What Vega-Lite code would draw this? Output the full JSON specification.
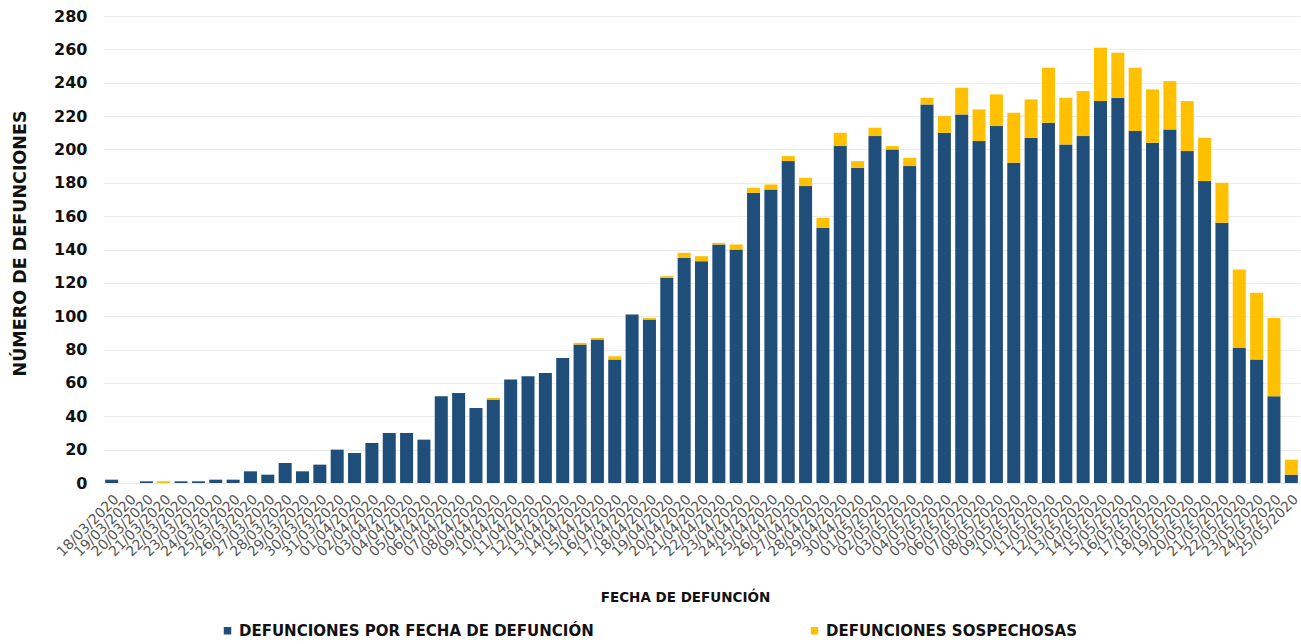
{
  "$schema": "https://vega.github.io/schema/vega-lite/v6.json",
  "autosize": {"type": "none"},
  "width": 1197,
  "height": 467,
  "padding": {"left": 103, "top": 16, "right": 1, "bottom": 161},
  "background": "white",
  "config": {
    "font": "DejaVu Sans",
    "view": {"stroke": null}
  },
  "data": {
    "values": [
      {"fecha": "18/03/2020", "conf": 2, "sosp": 0},
      {"fecha": "19/03/2020", "conf": 0, "sosp": 0},
      {"fecha": "20/03/2020", "conf": 1, "sosp": 0},
      {"fecha": "21/03/2020", "conf": 0, "sosp": 1},
      {"fecha": "22/03/2020", "conf": 1, "sosp": 0},
      {"fecha": "23/03/2020", "conf": 1, "sosp": 0},
      {"fecha": "24/03/2020", "conf": 2, "sosp": 0},
      {"fecha": "25/03/2020", "conf": 2, "sosp": 0},
      {"fecha": "26/03/2020", "conf": 7, "sosp": 0},
      {"fecha": "27/03/2020", "conf": 5, "sosp": 0},
      {"fecha": "28/03/2020", "conf": 12, "sosp": 0},
      {"fecha": "29/03/2020", "conf": 7, "sosp": 0},
      {"fecha": "30/03/2020", "conf": 11, "sosp": 0},
      {"fecha": "31/03/2020", "conf": 20, "sosp": 0},
      {"fecha": "01/04/2020", "conf": 18, "sosp": 0},
      {"fecha": "02/04/2020", "conf": 24, "sosp": 0},
      {"fecha": "03/04/2020", "conf": 30, "sosp": 0},
      {"fecha": "04/04/2020", "conf": 30, "sosp": 0},
      {"fecha": "05/04/2020", "conf": 26, "sosp": 0},
      {"fecha": "06/04/2020", "conf": 52, "sosp": 0},
      {"fecha": "07/04/2020", "conf": 54, "sosp": 0},
      {"fecha": "08/04/2020", "conf": 45, "sosp": 0},
      {"fecha": "09/04/2020", "conf": 50, "sosp": 1},
      {"fecha": "10/04/2020", "conf": 62, "sosp": 0},
      {"fecha": "11/04/2020", "conf": 64, "sosp": 0},
      {"fecha": "12/04/2020", "conf": 66, "sosp": 0},
      {"fecha": "13/04/2020", "conf": 75, "sosp": 0},
      {"fecha": "14/04/2020", "conf": 83, "sosp": 1},
      {"fecha": "15/04/2020", "conf": 86, "sosp": 1},
      {"fecha": "16/04/2020", "conf": 74, "sosp": 2},
      {"fecha": "17/04/2020", "conf": 101, "sosp": 0},
      {"fecha": "18/04/2020", "conf": 98, "sosp": 1},
      {"fecha": "19/04/2020", "conf": 123, "sosp": 1},
      {"fecha": "20/04/2020", "conf": 135, "sosp": 3},
      {"fecha": "21/04/2020", "conf": 133, "sosp": 3},
      {"fecha": "22/04/2020", "conf": 143, "sosp": 1},
      {"fecha": "23/04/2020", "conf": 140, "sosp": 3},
      {"fecha": "24/04/2020", "conf": 174, "sosp": 3},
      {"fecha": "25/04/2020", "conf": 176, "sosp": 3},
      {"fecha": "26/04/2020", "conf": 193, "sosp": 3},
      {"fecha": "27/04/2020", "conf": 178, "sosp": 5},
      {"fecha": "28/04/2020", "conf": 153, "sosp": 6},
      {"fecha": "29/04/2020", "conf": 202, "sosp": 8},
      {"fecha": "30/04/2020", "conf": 189, "sosp": 4},
      {"fecha": "01/05/2020", "conf": 208, "sosp": 5},
      {"fecha": "02/05/2020", "conf": 200, "sosp": 2},
      {"fecha": "03/05/2020", "conf": 190, "sosp": 5},
      {"fecha": "04/05/2020", "conf": 227, "sosp": 4},
      {"fecha": "05/05/2020", "conf": 210, "sosp": 10},
      {"fecha": "06/05/2020", "conf": 221, "sosp": 16},
      {"fecha": "07/05/2020", "conf": 205, "sosp": 19},
      {"fecha": "08/05/2020", "conf": 214, "sosp": 19},
      {"fecha": "09/05/2020", "conf": 192, "sosp": 30},
      {"fecha": "10/05/2020", "conf": 207, "sosp": 23},
      {"fecha": "11/05/2020", "conf": 216, "sosp": 33},
      {"fecha": "12/05/2020", "conf": 203, "sosp": 28},
      {"fecha": "13/05/2020", "conf": 208, "sosp": 27},
      {"fecha": "14/05/2020", "conf": 229, "sosp": 32},
      {"fecha": "15/05/2020", "conf": 231, "sosp": 27},
      {"fecha": "16/05/2020", "conf": 211, "sosp": 38},
      {"fecha": "17/05/2020", "conf": 204, "sosp": 32},
      {"fecha": "18/05/2020", "conf": 212, "sosp": 29},
      {"fecha": "19/05/2020", "conf": 199, "sosp": 30},
      {"fecha": "20/05/2020", "conf": 181, "sosp": 26},
      {"fecha": "21/05/2020", "conf": 156, "sosp": 24},
      {"fecha": "22/05/2020", "conf": 81, "sosp": 47},
      {"fecha": "23/05/2020", "conf": 74, "sosp": 40},
      {"fecha": "24/05/2020", "conf": 52, "sosp": 47},
      {"fecha": "25/05/2020", "conf": 5, "sosp": 9}
    ]
  },
  "transform": [
    {"fold": ["conf", "sosp"], "as": ["serie", "valor"]},
    {"lookup": "serie", "from": {"data": {"values": [
      {"serie": "conf", "nombre": "DEFUNCIONES POR FECHA DE DEFUNCIÓN"},
      {"serie": "sosp", "nombre": "DEFUNCIONES SOSPECHOSAS"}
    ]}, "key": "serie", "fields": ["nombre"]}}
  ],
  "mark": {"type": "bar"},
  "encoding": {
    "x": {
      "field": "fecha",
      "type": "ordinal",
      "sort": null,
      "scale": {"paddingInner": 0.25, "paddingOuter": 0.125},
      "axis": {
        "title": "FECHA DE DEFUNCIÓN",
        "titleFontSize": 13.5,
        "titleFontWeight": "bold",
        "titleColor": "#111111",
        "titleX": 582,
        "titleY": 114,
        "titleBaseline": "middle",
        "labelAngle": -45,
        "labelFontSize": 14,
        "labelColor": "#555555",
        "labelPadding": 9,
        "ticks": false,
        "domain": false,
        "labelOverlap": false
      }
    },
    "y": {
      "field": "valor",
      "type": "quantitative",
      "stack": "zero",
      "scale": {"domain": [0, 280]},
      "axis": {
        "values": [0, 20, 40, 60, 80, 100, 120, 140, 160, 180, 200, 220, 240, 260, 280],
        "title": "NÚMERO DE  DEFUNCIONES",
        "titleFontSize": 17.5,
        "titleFontWeight": "bold",
        "titleColor": "#111111",
        "titleX": -83,
        "titleY": 227,
        "titleAngle": -90,
        "titleAlign": "center",
        "titleBaseline": "middle",
        "labelFontSize": 16,
        "labelFontWeight": "bold",
        "labelColor": "#111111",
        "labelPadding": 16,
        "ticks": false,
        "domain": false,
        "gridColor": "#ebebeb",
        "gridWidth": 1
      }
    },
    "color": {
      "field": "nombre",
      "type": "nominal",
      "scale": {
        "domain": ["DEFUNCIONES POR FECHA DE DEFUNCIÓN", "DEFUNCIONES SOSPECHOSAS"],
        "range": ["#1f4e7a", "#ffc000"]
      },
      "legend": {
        "title": null,
        "orient": "none",
        "legendX": 117,
        "legendY": 607,
        "direction": "horizontal",
        "columns": 2,
        "columnPadding": 213,
        "symbolType": "square",
        "symbolSize": 56,
        "symbolStrokeWidth": 0,
        "labelFontSize": 15,
        "labelFontWeight": "bold",
        "labelColor": "#111111",
        "labelLimit": 500,
        "labelOffset": 4
      }
    },
    "order": {"field": "serie", "type": "nominal"}
  }
}
